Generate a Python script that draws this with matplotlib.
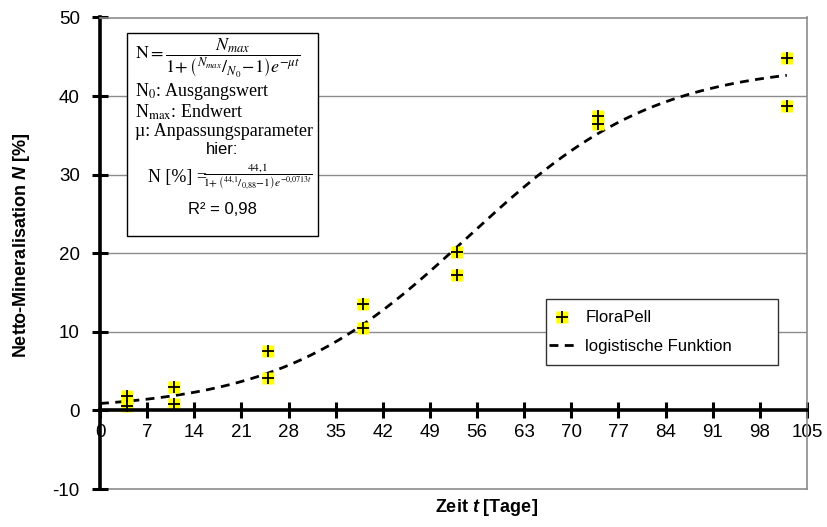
import numpy as np
import matplotlib
matplotlib.use("Agg")
import matplotlib.pyplot as plt
from matplotlib.lines import Line2D
from matplotlib.legend_handler import HandlerTuple

# ---- data ----
days = [4, 4, 11, 11, 25, 25, 39, 39, 53, 53, 74, 74, 102, 102]
mineralisation = [1.8, 0.5, 3.0, 0.8, 7.5, 4.1, 13.5, 10.5, 20.1, 17.2, 37.5, 36.5, 44.8, 38.8]
# logistic fit parameters (given in the chart)
N_max = 44.1
N_0 = 0.88
mu = 0.0713
x_ticks = [0, 7, 14, 21, 28, 35, 42, 49, 56, 63, 70, 77, 84, 91, 98, 105]
y_ticks = [-10, 0, 10, 20, 30, 40, 50]

plt.rcParams['axes.unicode_minus'] = False
plt.rcParams['mathtext.fontset'] = 'custom'
plt.rcParams['mathtext.rm'] = 'Liberation Sans:bold'
plt.rcParams['mathtext.bf'] = 'Liberation Sans:bold:italic'
plt.rcParams['mathtext.it'] = 'Liberation Sans:bold:italic'

W, H = 827, 527
fig = plt.figure(figsize=(W / 100, H / 100), dpi=100)

def fx(px):
    return px / W

def fy(py):
    return 1 - py / H

ax = fig.add_axes([fx(100), fy(489), fx(807) - fx(100), fy(17.5) - fy(489)])
ax.set_xlim(0, 105)
ax.set_ylim(-10, 50)

# grid
for yv in [10, 20, 30, 40]:
    ax.axhline(yv, color='#8c8c8c', lw=1.0, zorder=1)
ax.axhline(-10, color='#8c8c8c', lw=1.2, zorder=1, clip_on=False)

# spines
for s in ['top', 'right']:
    ax.spines[s].set_color('#8c8c8c')
    ax.spines[s].set_linewidth(1.2)
ax.spines['left'].set_linewidth(2.6)
ax.spines['left'].set_color('black')
ax.spines['bottom'].set_position(('data', 0))
ax.spines['bottom'].set_linewidth(2.6)
ax.spines['bottom'].set_color('black')
ax.spines['bottom'].set_zorder(5)

ax.set_xticks(x_ticks)
ax.set_yticks(y_ticks)
ax.tick_params(axis='both', direction='inout', length=11, width=2.2, colors='black',
               labelsize=13.5)
ax.tick_params(axis='x', pad=4)
ax.tick_params(axis='y', pad=9)
for lab in ax.get_xticklabels() + ax.get_yticklabels():
    lab.set_fontfamily('Liberation Sans')

# fitted curve
t = np.linspace(0, 102, 300)
curve = N_max / (1 + (N_max / N_0 - 1) * np.exp(-mu * t))
ax.plot(t, curve, color='black', lw=2.0, ls=(0, (3.2, 2.3)), zorder=3)

# data points
ax.plot(days, mineralisation, ls='none', marker='s', ms=8.5, mfc='#ffff00', mec='none', zorder=4)
ax.plot(days, mineralisation, ls='none', marker='+', ms=8, mew=1.3, color='black', zorder=4.5)

# axis labels
fig.text(fx(487), fy(508), r'Zeit $\mathbf{t}$ [Tage]', ha='center', va='center',
         fontsize=13, fontweight='bold', family='Liberation Sans', math_fontfamily='custom')
fig.text(fx(22), fy(245), r'Netto-Mineralisation $\mathbf{N}$ [%]', ha='center', va='center',
         rotation=90, fontsize=13, fontweight='bold', family='Liberation Sans',
         math_fontfamily='custom')

# legend (frame drawn separately)
frame = plt.Rectangle((fx(546), fy(365)), fx(778) - fx(546), fy(299) - fy(365),
                      transform=fig.transFigure, fill=True, facecolor='white',
                      edgecolor='#333333', lw=1.0, zorder=8)
fig.add_artist(frame)
h_pts = (Line2D([], [], ls='none', marker='s', ms=8.5, mfc='#ffff00', mec='none'),
         Line2D([], [], ls='none', marker='+', ms=8, mew=1.3, color='black'))
h_line = Line2D([], [], color='black', lw=2.0, ls=(0, (3.2, 2.3)))
leg = fig.legend([h_pts, h_line], ['FloraPell', 'logistische Funktion'],
                 handler_map={tuple: HandlerTuple(ndivide=1)},
                 loc='center left', bbox_to_anchor=(fx(547), fy(332)),
                 bbox_transform=fig.transFigure, borderaxespad=0,
                 frameon=False,
                 prop={'family': 'Liberation Sans', 'size': 12},
                 handlelength=1.6, handletextpad=0.6, labelspacing=0.8,
                 borderpad=0.1)
leg.set_zorder(9)

# formula box
box = plt.Rectangle((fx(127), fy(236)), fx(318) - fx(127), fy(33) - fy(236),
                    transform=fig.transFigure, fill=True, facecolor='white',
                    edgecolor='black', lw=1.0, zorder=10)
fig.add_artist(box)

serif = 'Liberation Serif'
fig.text(fx(135), fy(58),
         r'$\mathrm{N} = \dfrac{N_{max}}{1\!+\left({}^{N_{max}}/_{N_0}\!-\!1\right)e^{-\mu t}}$',
         ha='left', va='center', fontsize=13, zorder=11, math_fontfamily='stix')
fig.text(fx(135), fy(92), r'N$_\mathrm{0}$: Ausgangswert', ha='left', va='center',
         fontsize=13, family=serif, zorder=11, math_fontfamily='stix')
fig.text(fx(135), fy(112), r'N$_\mathrm{max}$: Endwert', ha='left', va='center',
         fontsize=13, family=serif, zorder=11, math_fontfamily='stix')
fig.text(fx(135), fy(131), 'µ: Anpassungsparameter', ha='left', va='center',
         fontsize=13, family=serif, zorder=11)
fig.text(fx(222), fy(150), 'hier:', ha='center', va='center',
         fontsize=12, family='Liberation Sans', zorder=11)
fig.text(fx(148), fy(177), 'N [%] =', ha='left', va='center',
         fontsize=13, family=serif, zorder=11)
fig.text(fx(203), fy(177),
         r'$\dfrac{44{,}1}{1\!+\left({}^{44{,}1}/_{0{,}88}\!-\!1\right)e^{-0{,}0713t}}$',
         ha='left', va='center', fontsize=8.2, zorder=11, math_fontfamily='stix')
fig.text(fx(222), fy(210), 'R² = 0,98', ha='center', va='center',
         fontsize=12, family='Liberation Sans', zorder=11)

fig.savefig('out.png', dpi=100)
